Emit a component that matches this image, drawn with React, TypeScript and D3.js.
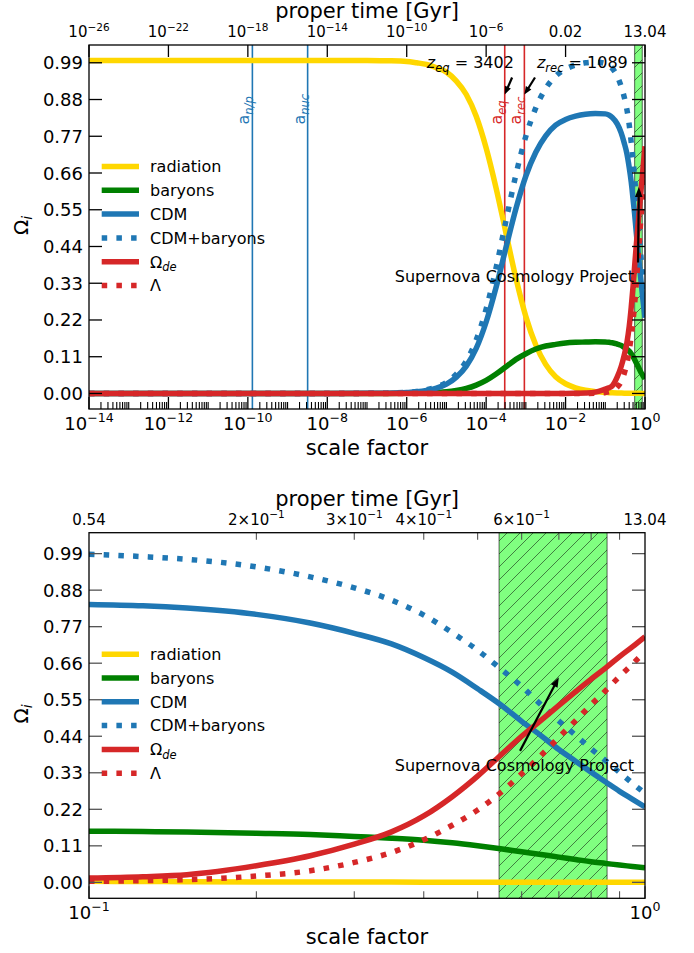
import React from "react";
import * as d3 from "d3";

// ---------------- data ----------------
const scaleFactor = [
  1e-14, 1e-12, 1e-10, 1e-8, 1e-7, 3.16e-7, 1e-6, 1.78e-6, 3.16e-6, 5.62e-6,
  1e-5, 1.78e-5, 3.16e-5, 5.62e-5, 1e-4, 1.78e-4, 3.16e-4, 5.62e-4,
  1e-3, 1.78e-3, 3.16e-3, 5.62e-3, 0.01, 0.0178, 0.0316, 0.0562,
  0.1, 0.125, 0.15, 0.2, 0.25, 0.3, 0.35, 0.4, 0.45, 0.5, 0.55, 0.6, 0.65, 0.7,
  0.75, 0.8, 0.85, 0.9, 0.95, 1.0,
];
const radiation = [
  0.997, 0.997, 0.997, 0.997, 0.997, 0.996, 0.994, 0.99, 0.985, 0.975,
  0.962, 0.935, 0.895, 0.83, 0.735, 0.615, 0.48, 0.345,
  0.23, 0.145, 0.087, 0.05, 0.029, 0.017, 0.0095, 0.0055,
  0.003, 0.0025, 0.002, 0.0014, 0.0011, 0.0009, 0.0008, 0.0007, 0.0006, 0.0005, 0.0004, 0.0004, 0.0003, 0.0003,
  0.0003, 0.0002, 0.0002, 0.0002, 0.0002, 0.0001,
];
const baryons = [
  0, 0, 0, 0, 0.00005, 0.0002, 0.0005, 0.001, 0.0017, 0.003,
  0.005, 0.009, 0.015, 0.025, 0.039, 0.058, 0.08, 0.102,
  0.119, 0.133, 0.142, 0.147, 0.151, 0.153, 0.154, 0.155,
  0.154, 0.153, 0.152, 0.148, 0.144, 0.138, 0.133, 0.127, 0.119, 0.11, 0.101, 0.092, 0.084, 0.076,
  0.069, 0.062, 0.057, 0.052, 0.048, 0.044,
];
const cdm = [
  0, 0, 0, 0, 0.0003, 0.001, 0.003, 0.005, 0.009, 0.016,
  0.028, 0.049, 0.082, 0.135, 0.214, 0.318, 0.437, 0.553,
  0.651, 0.722, 0.771, 0.803, 0.82, 0.83, 0.836, 0.838,
  0.837, 0.833, 0.826, 0.807, 0.781, 0.75, 0.718, 0.677, 0.633, 0.583, 0.535, 0.485, 0.442, 0.4,
  0.365, 0.332, 0.302, 0.274, 0.25, 0.227,
];
const cdmBaryons = [
  0, 0, 0, 0, 0.0003, 0.001, 0.0034, 0.006, 0.011, 0.019,
  0.033, 0.058, 0.097, 0.16, 0.253, 0.376, 0.517, 0.655,
  0.77, 0.855, 0.913, 0.95, 0.971, 0.983, 0.99, 0.992,
  0.988, 0.981, 0.973, 0.95, 0.92, 0.887, 0.85, 0.805, 0.752, 0.699, 0.643, 0.59, 0.535, 0.486,
  0.443, 0.402, 0.366, 0.331, 0.298, 0.268,
];
const omegaDE = [
  0, 0, 0, 0, 0, 0, 0, 0, 0, 0,
  0, 0, 0, 0, 0, 0, 0, 0,
  0, 0, 0, 0, 0, 0.0005, 0.0013, 0.004,
  0.013, 0.017, 0.023, 0.05, 0.08, 0.115, 0.152, 0.2, 0.258, 0.32, 0.383, 0.44, 0.488, 0.533,
  0.574, 0.612, 0.646, 0.68, 0.71, 0.74,
];
const lambdaCC = [
  0, 0, 0, 0, 0, 0, 0, 0, 0, 0,
  0, 0, 0, 0, 0, 0, 0, 0,
  0, 0, 0, 0, 0, 0, 0.0001, 0.0006,
  0.003, 0.005, 0.008, 0.019, 0.035, 0.06, 0.09, 0.128, 0.172, 0.218, 0.27, 0.327, 0.382, 0.437,
  0.487, 0.535, 0.578, 0.62, 0.658, 0.695,
];

const yTickValues = [0, 0.11, 0.22, 0.33, 0.44, 0.55, 0.66, 0.77, 0.88, 0.99];
const topTimeTicks = [1e-14, 1e-12, 1e-10, 1e-8, 1e-6, 1e-4, 1e-2, 1];
const topTimeLabels: [string, string][] = [
  ["10", "−26"], ["10", "−22"], ["10", "−18"], ["10", "−14"],
  ["10", "−10"], ["10", "−6"], ["0.02", ""], ["13.04", ""],
];
const bottomTimeTicks = [0.1, 0.2, 0.3, 0.4, 0.6, 1.0];
const bottomTimeLabels: [string, string][] = [
  ["0.54", ""], ["2×10", "−1"], ["3×10", "−1"], ["4×10", "−1"], ["6×10", "−1"], ["13.04", ""],
];
const bottomMinorTicks = [0.2, 0.3, 0.4, 0.5, 0.6, 0.7, 0.8, 0.9];

const markerLines = [
  { a: 1.3e-10, sub: "n/p", color: "#1f77b4" },
  { a: 3.2e-9, sub: "nuc", color: "#1f77b4" },
  { a: 1 / 3403, sub: "eq", color: "#d62728" },
  { a: 1 / 1090, sub: "rec", color: "#d62728" },
];
const zNotes = [
  { sub: "eq", value: " = 3402", textA: 3.2e-6, textY: 0.973, tailA: 4.5e-4, tailY: 0.946, headA: 1 / 3403, headY: 0.895 },
  { sub: "rec", value: " = 1089", textA: 1.9e-3, textY: 0.973, tailA: 1.7e-3, tailY: 0.946, headA: 1 / 1090, headY: 0.895 },
];
const snBand = [1 / 1.83, 1 / 1.17];
const snHead = { a: 0.7, y: 0.618 };
const snTailTop = { a: 0.668, y: 0.392 };
const snTailBottom = { a: 0.596, y: 0.396 };

const GOLD = "#FFD700";
const GREEN = "#008000";
const BLUE = "#1f77b4";
const RED = "#d62728";
const FONT = "DejaVu Sans, Verdana, sans-serif";

const series = [
  { key: "rad", label: "radiation", values: radiation, color: GOLD, dotted: false },
  { key: "bar", label: "baryons", values: baryons, color: GREEN, dotted: false },
  { key: "cdm", label: "CDM", values: cdm, color: BLUE, dotted: false },
  { key: "cdmb", label: "CDM+baryons", values: cdmBaryons, color: BLUE, dotted: true },
  { key: "de", label: "Ω", sub: "de", values: omegaDE, color: RED, dotted: false },
  { key: "lam", label: "Λ", values: lambdaCC, color: RED, dotted: true },
];

const LW = 5.5;
const DASH = "5.5 9.2";

type PanelCfg = {
  id: string;
  left: number; right: number; top: number; bottom: number;
  xDomain: [number, number];
  yDomain: [number, number];
  tickColor: string;
  tail: { a: number; y: number };
};

const panels: PanelCfg[] = [
  { id: "top", left: 89, right: 645, top: 45, bottom: 409, xDomain: [1e-14, 1], yDomain: [-0.0465, 1.0432], tickColor: "#000", tail: snTailTop },
  { id: "bot", left: 89, right: 645, top: 532.7, bottom: 898.3, xDomain: [0.1, 1], yDomain: [-0.048, 1.053], tickColor: "#555", tail: snTailBottom },
];

function Arrow({ x1, y1, x2, y2, head = 10, width = 8, sw = 2 }: any) {
  const dx = x2 - x1, dy = y2 - y1;
  const len = Math.hypot(dx, dy);
  const ux = dx / len, uy = dy / len;
  const bx = x2 - ux * head, by = y2 - uy * head;
  const px = (-uy * width) / 2, py = (ux * width) / 2;
  return (
    <g>
      <line x1={x1} y1={y1} x2={bx + ux * 1.5} y2={by + uy * 1.5} stroke="#000" strokeWidth={sw} />
      <polygon points={`${x2},${y2} ${bx + px},${by + py} ${bx - px},${by - py}`} fill="#000" />
    </g>
  );
}

function PowLabel({ x, y, base, exp, size, anchor = "middle", raise }: any) {
  return (
    <text x={x} y={y} fontSize={size} textAnchor={anchor} fontFamily={FONT} fill="#000">
      <tspan>{base}</tspan>
      {exp ? (
        <tspan fontSize={size * 0.7} dy={-raise}>{exp}</tspan>
      ) : null}
    </text>
  );
}

function PanelView({ cfg }: { cfg: PanelCfg }) {
  const isTop = cfg.id === "top";
  const x = d3.scaleLog().domain(cfg.xDomain).range([cfg.left, cfg.right]);
  const y = d3.scaleLinear().domain(cfg.yDomain).range([cfg.bottom, cfg.top]);
  const w = cfg.right - cfg.left;
  const h = cfg.bottom - cfg.top;
  const idx = scaleFactor.map((_, i) => i).filter((i) => scaleFactor[i] >= cfg.xDomain[0] * 0.999);

  const pathFor = (vals: number[]) =>
    d3
      .line<number>()
      .x((i) => x(scaleFactor[i]))
      .y((i) => y(vals[i]))
      .curve(d3.curveMonotoneX)(idx) || "";

  const majorBottom: { v: number; label?: [string, string] }[] = [];
  const minorBottom: number[] = [];
  if (isTop) {
    for (let k = -14; k <= 0; k++) {
      if (k % 2 === 0) majorBottom.push({ v: Math.pow(10, k), label: ["10", k === 0 ? "0" : `−${-k}`] });
      else minorBottom.push(Math.pow(10, k));
      if (k < 0) for (let s = 2; s <= 9; s++) minorBottom.push(s * Math.pow(10, k));
    }
  } else {
    majorBottom.push({ v: 0.1, label: ["10", "−1"] });
    majorBottom.push({ v: 1, label: ["10", "0"] });
    bottomMinorTicks.forEach((v) => minorBottom.push(v));
  }

  const legendY0 = cfg.top + 121.5;
  const legendStep = 23.8;
  const clipId = `clip-${cfg.id}`;
  const tc = cfg.tickColor;

  return (
    <g>
      <defs>
        <clipPath id={clipId}>
          <rect x={cfg.left} y={cfg.top} width={w} height={h} />
        </clipPath>
      </defs>

      <g clipPath={`url(#${clipId})`}>
        {isTop &&
          markerLines.map((m, i) => (
            <line key={i} x1={x(m.a)} x2={x(m.a)} y1={cfg.top} y2={cfg.bottom} stroke={m.color} strokeWidth={1.6} />
          ))}
        <rect x={x(snBand[0])} y={cfg.top - 2} width={x(snBand[1]) - x(snBand[0])} height={h + 4} fill="url(#hatch)" stroke="rgba(0,0,0,0.5)" strokeWidth={1.2} />
        {series.map((s) => (
          <path
            key={s.key}
            d={pathFor(s.values)}
            fill="none"
            stroke={s.color}
            strokeWidth={LW}
            strokeDasharray={s.dotted ? DASH : undefined}
            strokeLinejoin="round"
          />
        ))}
      </g>

      {isTop &&
        markerLines.map((m, i) => {
          const tx = x(m.a) - 3;
          const ty = y(0.805);
          return (
            <text key={i} transform={`translate(${tx},${ty}) rotate(-90)`} fontSize={16} fontFamily={FONT} fill={m.color}>
              <tspan>a</tspan>
              <tspan fontSize={11.5} fontStyle="italic" dy={4}>{m.sub}</tspan>
            </text>
          );
        })}
      {isTop &&
        zNotes.map((z, i) => (
          <g key={i}>
            <text x={x(z.textA)} y={y(z.textY)} fontSize={16} fontFamily={FONT} fill="#000">
              <tspan fontStyle="italic">z</tspan>
              <tspan fontSize={11.5} fontStyle="italic" dy={4}>{z.sub}</tspan>
              <tspan dy={-4}>{z.value}</tspan>
            </text>
            <Arrow x1={x(z.tailA)} y1={y(z.tailY)} x2={x(z.headA)} y2={y(z.headY)} head={8} width={6.5} sw={2.2} />
          </g>
        ))}

      <text x={cfg.left + 0.55 * w} y={cfg.bottom - 0.349 * h} fontSize={16} fontFamily={FONT} fill="#000">
        Supernova Cosmology Project
      </text>
      <Arrow x1={x(cfg.tail.a)} y1={y(cfg.tail.y)} x2={x(snHead.a)} y2={y(snHead.y)} head={10} width={7.5} sw={2.2} />

      {series.map((s, i) => {
        const ly = legendY0 + i * legendStep;
        return (
          <g key={s.key}>
            <line x1={101.7} x2={139} y1={ly} y2={ly} stroke={s.color} strokeWidth={LW} strokeDasharray={s.dotted ? DASH : undefined} />
            <text x={150} y={ly + 5.8} fontSize={16} fontFamily={FONT} fill="#000">
              <tspan>{s.label}</tspan>
              {s.sub ? (
                <tspan fontSize={11.5} fontStyle="italic" dy={3.5}>{s.sub}</tspan>
              ) : null}
            </text>
          </g>
        );
      })}

      {yTickValues.map((v) => (
        <g key={v}>
          <line x1={cfg.left} x2={cfg.left + 13} y1={y(v)} y2={y(v)} stroke={tc} strokeWidth={1.3} />
          <line x1={cfg.right - 13} x2={cfg.right} y1={y(v)} y2={y(v)} stroke={tc} strokeWidth={1.3} />
          <text x={83} y={y(v) + 6.5} fontSize={18} textAnchor="end" fontFamily={FONT} fill="#000">
            {v.toFixed(2)}
          </text>
        </g>
      ))}

      {majorBottom.map((t, i) => (
        <g key={`M${i}`}>
          <line x1={x(t.v)} x2={x(t.v)} y1={cfg.bottom} y2={cfg.bottom - 12} stroke={tc} strokeWidth={1.3} />
          {t.label ? (
            <PowLabel x={x(t.v)} y={cfg.bottom + 21} base={t.label[0]} exp={t.label[1]} size={18} raise={8} />
          ) : null}
        </g>
      ))}
      {minorBottom.map((v, i) => (
        <line key={`m${i}`} x1={x(v)} x2={x(v)} y1={cfg.bottom} y2={cfg.bottom - 7} stroke={tc} strokeWidth={1.1} />
      ))}

      {isTop
        ? topTimeTicks.map((v, i) => (
            <g key={`t${i}`}>
              <line x1={x(v)} x2={x(v)} y1={cfg.top} y2={cfg.top + 12} stroke={tc} strokeWidth={1.3} />
              <PowLabel x={x(v)} y={cfg.top - 8} base={topTimeLabels[i][0]} exp={topTimeLabels[i][1]} size={15} raise={6.5} />
            </g>
          ))
        : (
          <g>
            {bottomMinorTicks.map((v, i) => (
              <line key={`bt${i}`} x1={x(v)} x2={x(v)} y1={cfg.top} y2={cfg.top + 7} stroke={tc} strokeWidth={1.1} />
            ))}
            {bottomTimeTicks.map((v, i) => (
              <PowLabel key={`bl${i}`} x={x(v)} y={cfg.top - 8} base={bottomTimeLabels[i][0]} exp={bottomTimeLabels[i][1]} size={15} raise={6.5} />
            ))}
          </g>
        )}

      <text x={(cfg.left + cfg.right) / 2} y={cfg.top - 27} fontSize={21} textAnchor="middle" fontFamily={FONT} fill="#000">
        proper time [Gyr]
      </text>
      <text x={(cfg.left + cfg.right) / 2} y={cfg.bottom + 46} fontSize={21} textAnchor="middle" fontFamily={FONT} fill="#000">
        scale factor
      </text>
      <text transform={`translate(28,${(cfg.top + cfg.bottom) / 2 + 8}) rotate(-90)`} fontSize={20} fontFamily={FONT} fill="#000">
        <tspan>Ω</tspan>
        <tspan fontSize={14} fontStyle="italic" dy={4}>i</tspan>
      </text>

      <rect x={cfg.left} y={cfg.top} width={w} height={h} fill="none" stroke="#000" strokeWidth={1.3} />
    </g>
  );
}

export default function App() {
  return (
    <div style={{ position: "absolute", left: 0, top: 0 }}>
      <svg width={694} height={953} viewBox="0 0 694 953" style={{ display: "block", background: "#fff" }}>
        <defs>
          <pattern id="hatch" patternUnits="userSpaceOnUse" width={13} height={13}>
            <rect width={13} height={13} fill="#80ff80" />
            <path d="M-1,1 l2,-2 M0,13 l13,-13 M12,14 l2,-2" stroke="rgba(0,0,0,0.5)" strokeWidth={1} />
          </pattern>
        </defs>
        <rect width={694} height={953} fill="#fff" />
        {panels.map((p) => (
          <PanelView key={p.id} cfg={p} />
        ))}
      </svg>
    </div>
  );
}
